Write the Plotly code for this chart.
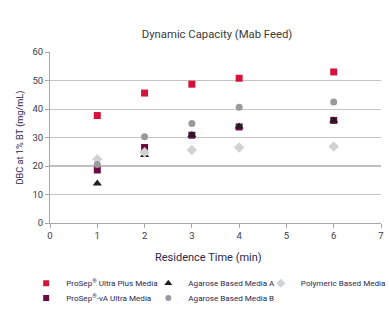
import plotly.graph_objects as go

residence_time = [1, 2, 3, 4, 6]

ultra_plus = [37.7, 45.6, 48.7, 50.8, 53.0]
prosep_va = [18.6, 26.5, 30.8, 33.7, 36.0]
agarose_a = [13.9, 23.9, 30.9, 33.9, 36.0]
agarose_b = [20.5, 30.3, 34.9, 40.6, 42.5]
polymeric = [22.4, 24.8, 25.6, 26.5, 26.8]

x_ticks = [0, 1, 2, 3, 4, 5, 6, 7]
y_ticks = [0, 10, 20, 30, 40, 50, 60]

FONT = "Roboto, sans-serif"
TEXT_DARK = "#2a2850"

# name, values, symbol, colour, marker size, legend id, legend position (paper x, y)
series = [
    ("ProSep<sup>®</sup> Ultra Plus Media", ultra_plus, "square", "#d4143a", 7, "legend", (-0.072, -0.352)),
    ("ProSep<sup>®</sup>-vA Ultra Media", prosep_va, "square", "#6c0c42", 7, "legend2", (-0.072, -0.439)),
    ("Agarose Based Media A", agarose_a, "triangle-up", "#1f1f1f", 8, "legend3", (0.297, -0.352)),
    ("Polymeric Based Media", polymeric, "diamond", "#d2d2d4", 8, "legend4", (0.637, -0.352)),
    ("Agarose Based Media B", agarose_b, "circle", "#9a9a9e", 7, "legend5", (0.297, -0.439)),
]

fig = go.Figure()

# heavier rule along the 20 mg/mL gridline
fig.add_hline(y=20, line=dict(color="#bdbdbd", width=2), layer="below")

for name, vals, sym, col, size, leg, _ in series:
    fig.add_trace(go.Scatter(
        x=residence_time, y=vals, mode="markers", name=name,
        marker=dict(symbol=sym, color=col, size=size, line=dict(width=0)),
        showlegend=False,
    ))

# legend entries with smaller key symbols
for name, vals, sym, col, size, leg, _ in series:
    fig.add_trace(go.Scatter(
        x=[None], y=[None], mode="markers", name=name,
        marker=dict(symbol=sym, color=col, size=size - 1, line=dict(width=0)),
        legend=leg, showlegend=True,
    ))

legend_font = dict(family=FONT, size=8.1, color=TEXT_DARK)
legends = {}
for name, vals, sym, col, size, leg, (lx, ly) in series:
    legends[leg] = dict(
        x=lx, y=ly, xref="paper", yref="paper", xanchor="left", yanchor="middle",
        orientation="v", font=legend_font, bgcolor="rgba(0,0,0,0)",
        itemsizing="trace", itemwidth=30, borderwidth=0,
    )

fig.update_layout(
    width=389, height=335,
    margin=dict(l=50, r=8, t=52, b=112, autoexpand=False),
    paper_bgcolor="white", plot_bgcolor="white",
    title=dict(text="Dynamic Capacity (Mab Feed)", x=0.558, xanchor="center",
               y=0.898, yanchor="middle",
               font=dict(family=FONT, size=11.3, color="#3a3a3a")),
    xaxis=dict(range=[0, 7], tickvals=x_ticks, showgrid=False,
               showline=True, linecolor="#a8a8a8", linewidth=1,
               ticks="outside", ticklen=4, tickcolor="#a8a8a8",
               tickfont=dict(family=FONT, size=9.5, color="#3a3a4a"),
               zeroline=False),
    yaxis=dict(range=[0, 60], tickvals=y_ticks, showgrid=True,
               gridcolor="#c4c4c4", gridwidth=1,
               showline=True, linecolor="#a8a8a8", linewidth=1,
               ticks="outside", ticklen=4, tickcolor="#a8a8a8",
               tickfont=dict(family=FONT, size=9.5, color="#3a3a4a"),
               title=dict(text="DBC at 1% BT (mg/mL)", standoff=7,
                          font=dict(family=FONT, size=9.2, color=TEXT_DARK)),
               zeroline=False),
    annotations=[dict(
        text="Residence Time (min)", xref="paper", yref="paper",
        x=0.479, y=-0.199, xanchor="center", yanchor="middle", showarrow=False,
        font=dict(family=FONT, size=11, color=TEXT_DARK),
    )],
    **legends,
)

fig.write_html("out.html")
